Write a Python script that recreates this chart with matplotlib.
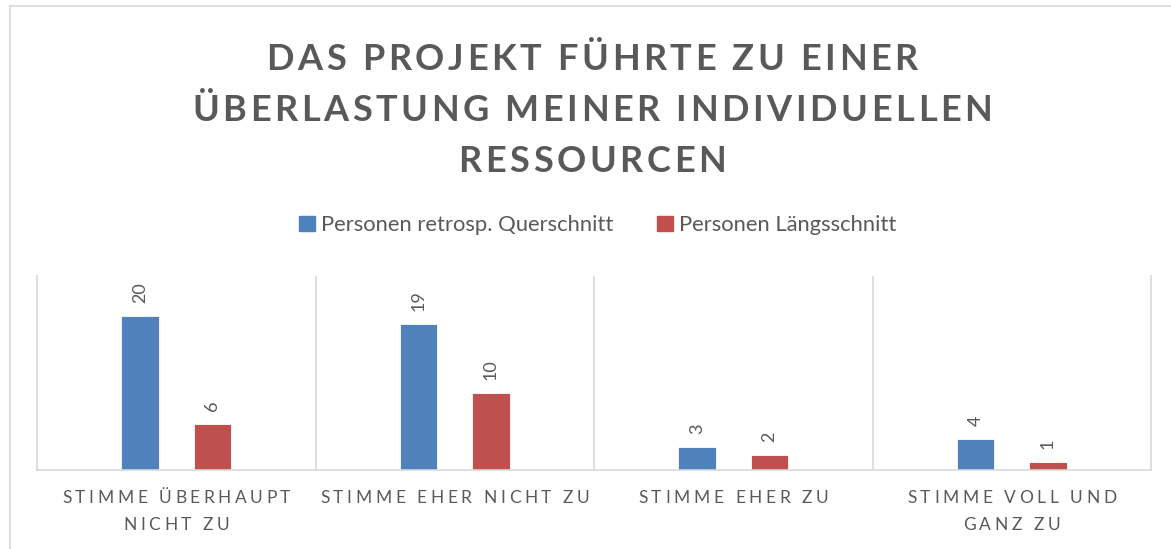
import numpy as np
import matplotlib
matplotlib.use("Agg")
import matplotlib.pyplot as plt
from matplotlib.patches import Patch
from matplotlib.font_manager import FontProperties

categories = [["STIMME ÜBERHAUPT", "NICHT ZU"], ["STIMME EHER NICHT ZU"],
              ["STIMME EHER ZU"], ["STIMME VOLL UND", "GANZ ZU"]]
quer = [20, 19, 3, 4]
laengs = [6, 10, 2, 1]
series_names = ["Personen retrosp. Querschnitt", "Personen Längsschnitt"]
title_lines = ["DAS PROJEKT FÜHRTE ZU EINER",
               "ÜBERLASTUNG MEINER INDIVIDUELLEN",
               "RESSOURCEN"]

BLUE = "#4F81BD"
RED = "#C0504D"
GRAY = "#595959"
GRID = "#D9D9D9"

plt.rcParams['font.family'] = ['Lato', 'DejaVu Sans']

W, H = 1171, 549
fig = plt.figure(figsize=(W / 100, H / 100), dpi=100)
renderer = fig.canvas.get_renderer()


def tracked(xc, y, text, prop, spacing, color=GRAY):
    # draw text with extra letter spacing, centered at pixel xc, y (from top)
    widths = [renderer.get_text_width_height_descent(ch, prop, ismath=False)[0]
              for ch in text]
    total = sum(widths) + spacing * (len(text) - 1)
    x = xc - total / 2
    for ch, w in zip(text, widths):
        fig.text(x / W, 1 - y / H, ch, fontproperties=prop, color=color,
                 ha="left", va="center")
        x += w + spacing


# frame of the chart area
fig.add_artist(plt.Line2D([10 / W, 10 / W], [0, 1 - 6 / H], color=GRID, lw=1.2))
fig.add_artist(plt.Line2D([10 / W, 1], [1 - 6 / H, 1 - 6 / H], color=GRID, lw=1.2))

# title
tprop = FontProperties(family=['Lato', 'DejaVu Sans'], weight='bold', size=26)
for i, line in enumerate(title_lines):
    tracked(592, 60 + i * 50.5, line, tprop, 3.6)

# axes
ax = fig.add_axes([37 / W, 1 - 470 / H, (1151 - 37) / W, (470 - 276) / H])
x = np.arange(len(quer))
bw = 0.135
b1 = ax.bar(x - 0.13, quer, bw, color=BLUE, edgecolor="white", linewidth=0.6)
b2 = ax.bar(x + 0.13, laengs, bw, color=RED, edgecolor="white", linewidth=0.6)
ax.set_xlim(-0.5, 3.5)
ax.set_ylim(0, 25.2)
ax.set_yticks([])
ax.set_xticks([])
ax.spines["top"].set_visible(False)
for s in ["left", "right", "bottom"]:
    ax.spines[s].set_color(GRID)
    ax.spines[s].set_linewidth(1.2)
for xs in [0.5, 1.5, 2.5]:
    ax.axvline(xs, color=GRID, lw=1.2)

for bars in (b1, b2):
    for r in bars:
        ax.annotate(str(int(r.get_height())),
                    (r.get_x() + r.get_width() / 2, r.get_height()),
                    xytext=(0, 13), textcoords="offset pixels",
                    rotation=90, ha="center", va="bottom",
                    color=GRAY, fontsize=13)

# category labels
cprop = FontProperties(family=['Lato', 'DejaVu Sans'], size=12.5)
for i, lab in enumerate(categories):
    xc = ax.transData.transform((i, 0))[0]
    for j, line in enumerate(lab):
        tracked(xc, 498 + j * 27, line, cprop, 3.6)

# legend
handles = [Patch(color=BLUE), Patch(color=RED)]
fig.legend(handles, series_names, loc="center", ncol=2,
           bbox_to_anchor=(598 / W, 1 - 225 / H), frameon=False,
           handlelength=0.7, handleheight=0.7, handletextpad=0.3,
           columnspacing=2.0, prop={'size': 15.8},
           labelcolor=GRAY)

fig.savefig("out.png", dpi=100)
